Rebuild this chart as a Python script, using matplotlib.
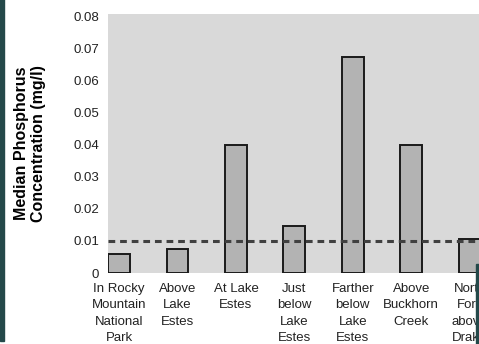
import matplotlib.pyplot as plt
from matplotlib.patches import Rectangle

plt.rcParams['font.family'] = ['Liberation Sans', 'DejaVu Sans']

sites = ['In Rocky\nMountain\nNational\nPark', 'Above\nLake\nEstes', 'At Lake\nEstes',
         'Just\nbelow\nLake\nEstes', 'Farther\nbelow\nLake\nEstes', 'Above\nBuckhorn\nCreek',
         'North\nFork\nabove\nDrake']
phosphorus = [0.006, 0.0075, 0.040, 0.0148, 0.0675, 0.040, 0.0105]
standard = 0.01
yticks = [0, 0.01, 0.02, 0.03, 0.04, 0.05, 0.06, 0.07, 0.08]
ytick_labels = ['0', '0.01', '0.02', '0.03', '0.04', '0.05', '0.06', '0.07', '0.08']

fig = plt.figure(figsize=(4.79, 3.44), dpi=100)
ax = fig.add_axes([108 / 479, 1 - 273 / 344, 1 - 108 / 479, (273 - 14) / 344])
ax.set_facecolor('#d9d9d9')

x = range(len(sites))
ax.bar(x, phosphorus, width=0.375, color='#b3b3b3', edgecolor='#1a1a1a', linewidth=1.4, zorder=2)
ax.axhline(standard, color='#404040', lw=2.2, dashes=(2.2, 1.6), zorder=3)

ax.set_xlim(-0.19, 6.16)
ax.set_ylim(0, 0.0809)
ax.set_yticks(yticks)
ax.set_yticklabels(ytick_labels, fontsize=9.5, color='#222222')
ax.set_xticks(list(x))
ax.set_xticklabels(sites, fontsize=9.5, color='#222222', linespacing=1.5, va='top')
ax.tick_params(axis='y', length=0, pad=6.5)
ax.tick_params(axis='x', length=0, pad=7)
for s in ax.spines.values():
    s.set_visible(False)

ax.set_ylabel('Median Phosphorus\nConcentration (mg/l)', fontsize=11.5, fontweight='bold',
              linespacing=1.2)
ax.yaxis.set_label_coords(-0.167, 0.5)

# dark border strips of the original slide
fig.patches.append(Rectangle((0, 3 / 344), 4 / 479, 1, transform=fig.transFigure,
                             color='#24494a', zorder=10))
fig.patches.append(Rectangle((1 - 3 / 479, 0), 3 / 479, 80 / 344, transform=fig.transFigure,
                             color='#24494a', zorder=10))

fig.savefig('out.png', dpi=100)
